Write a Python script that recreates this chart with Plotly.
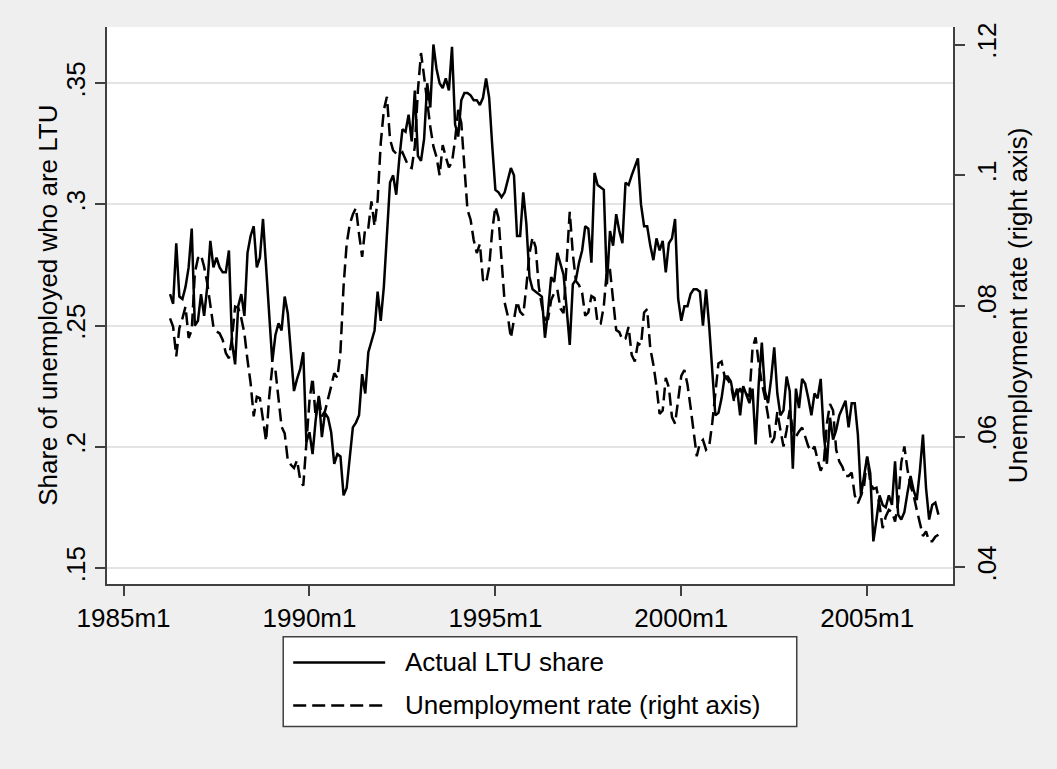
import plotly.graph_objects as go

# Monthly series, first observation 1986m4, last 2006m12
START_YEAR, START_MONTH = 1986, 4

# Share of the unemployed who are long-term unemployed (left axis)
ltu_share = [
    .263, .259, .284, .262, .261, .266, .274, .290, .250,                     # 1986 Apr-Dec
    .252, .263, .254, .266, .285, .274, .278, .274, .272, .272, .281, .243,  # 1987
    .234, .258, .263, .254, .280, .287, .291, .274, .278, .294, .274, .255,  # 1988
    .235, .246, .251, .248, .262, .255, .239, .223, .228, .232, .239, .202,  # 1989
    .206, .197, .211, .221, .204, .214, .212, .206, .193, .197, .196, .180,  # 1990
    .183, .195, .208, .210, .213, .230, .222, .239, .243, .248, .264, .252,  # 1991
    .266, .290, .309, .312, .304, .319, .331, .330, .337, .326, .347, .320,  # 1992
    .318, .327, .350, .340, .366, .356, .350, .348, .352, .347, .365, .333,  # 1993
    .328, .343, .346, .346, .345, .343, .343, .341, .344, .352, .344, .324,  # 1994
    .306, .305, .303, .305, .310, .315, .312, .287, .287, .305, .292, .270,  # 1995
    .265, .264, .263, .262, .245, .256, .270, .268, .280, .275, .271, .257,  # 1996
    .242, .267, .269, .276, .281, .291, .290, .276, .313, .308, .307, .306,  # 1997
    .267, .289, .283, .296, .289, .284, .309, .308, .312, .316, .319, .300,  # 1998
    .291, .291, .283, .277, .286, .281, .285, .272, .284, .286, .294, .261,  # 1999
    .252, .258, .258, .263, .265, .265, .264, .250, .265, .250, .232, .213,  # 2000
    .214, .220, .229, .229, .227, .220, .224, .213, .225, .221, .218, .224,  # 2001
    .201, .226, .243, .223, .218, .228, .241, .222, .213, .215, .229, .223,  # 2002
    .191, .224, .216, .228, .226, .220, .213, .222, .220, .228, .205, .193,  # 2003
    .212, .203, .207, .213, .216, .219, .208, .218, .218, .205, .180, .188,  # 2004
    .196, .189, .161, .170, .180, .176, .175, .180, .176, .194, .172, .170,  # 2005
    .173, .181, .188, .182, .178, .190, .205, .183, .170, .176, .177, .172,  # 2006
]

# Unemployment rate (right axis)
unemp_rate = [
    .0781, .0768, .0723, .0766, .0781, .0799, .0751, .0763, .0850,                            # 1986 Apr-Dec
    .0873, .0878, .0860, .0835, .0804, .0768, .0761, .0758, .0748, .0728, .0720, .0751,      # 1987
    .0799, .0797, .0781, .0758, .0717, .0682, .0631, .0661, .0659, .0626, .0593, .0661,      # 1988
    .0707, .0702, .0661, .0615, .0605, .0564, .0557, .0552, .0564, .0534, .0525, .0590,      # 1989
    .0655, .0690, .0630, .0661, .0631, .0639, .0656, .0677, .0697, .0690, .0730, .0830,      # 1990
    .0895, .0925, .0940, .0950, .0910, .0875, .0920, .0920, .0960, .0922, .0962, .1049,      # 1991
    .1100, .1120, .1055, .1038, .1033, .1031, .1035, .1025, .1013, .1011, .1044, .1130,      # 1992
    .1187, .1151, .1110, .1074, .1044, .1028, .1000, .1046, .1028, .1012, .1020, .1054,      # 1993
    .1100, .1080, .1013, .0947, .0932, .0901, .0881, .0895, .0840, .0835, .0860, .0916,      # 1994
    .0952, .0935, .0870, .0805, .0785, .0751, .0779, .0807, .0791, .0786, .0830, .0880,      # 1995
    .0905, .0890, .0830, .0800, .0779, .0780, .0809, .0820, .0825, .0796, .0789, .0870,      # 1996
    .0944, .0880, .0838, .0832, .0820, .0785, .0790, .0815, .0812, .0773, .0773, .0800,      # 1997
    .0855, .0855, .0804, .0763, .0760, .0748, .0750, .0768, .0725, .0715, .0743, .0740,      # 1998
    .0790, .0795, .0735, .0710, .0677, .0635, .0640, .0690, .0675, .0630, .0620, .0660,      # 1999
    .0693, .0702, .0680, .0645, .0606, .0570, .0590, .0595, .0580, .0585, .0621, .0665,      # 2000
    .0712, .0715, .0692, .0687, .0680, .0655, .0665, .0674, .0662, .0665, .0662, .0735,      # 2001
    .0752, .0712, .0682, .0660, .0632, .0590, .0598, .0638, .0610, .0585, .0610, .0641,      # 2002
    .0610, .0600, .0608, .0614, .0600, .0585, .0578, .0585, .0565, .0548, .0560, .0620,      # 2003
    .0650, .0640, .0580, .0562, .0554, .0540, .0540, .0545, .0510, .0498, .0510, .0525,      # 2004
    .0568, .0530, .0520, .0522, .0495, .0460, .0478, .0488, .0485, .0470, .0500, .0560,      # 2005
    .0585, .0550, .0525, .0510, .0488, .0470, .0448, .0455, .0440, .0440, .0447, .0450,      # 2006
]

x_tick_labels = ["1985m1", "1990m1", "1995m1", "2000m1", "2005m1"]
left_tick_vals = [0.15, 0.20, 0.25, 0.30, 0.35]
left_tick_text = [".15", ".2", ".25", ".3", ".35"]
right_tick_vals = [0.04, 0.06, 0.08, 0.10, 0.12]
right_tick_text = [".04", ".06", ".08", ".1", ".12"]

series_names = ["Actual LTU share", "Unemployment rate (right axis)"]
left_title = "Share of unemployed who are LTU"
right_title = "Unemployment rate (right axis)"


def stata_month(label):
    """Stata %tm number: months elapsed since 1960m1."""
    year, month = label.split("m")
    return (int(year) - 1960) * 12 + int(month) - 1


start = (START_YEAR - 1960) * 12 + START_MONTH - 1
months = list(range(start, start + len(ltu_share)))

AXIS_COLOR = "#404040"
FONT = dict(family="Liberation Sans, Arial, sans-serif", size=26, color="black")
LINE_W = 2.5
DASH = "13px,6px"

fig = go.Figure()
fig.add_trace(go.Scatter(
    x=months, y=ltu_share, mode="lines", name=series_names[0],
    line=dict(color="black", width=LINE_W), yaxis="y",
))
fig.add_trace(go.Scatter(
    x=months, y=unemp_rate, mode="lines", name=series_names[1],
    line=dict(color="black", width=LINE_W, dash=DASH), yaxis="y2",
))

x0 = stata_month("1985m1")
common_axis = dict(
    ticks="outside", ticklen=10, tickwidth=1.5, tickcolor=AXIS_COLOR,
    showline=True, linecolor=AXIS_COLOR, linewidth=1.5,
    zeroline=False, automargin=False, tickfont=FONT,
)

fig.update_layout(
    template="none",
    width=1057, height=769,
    margin=dict(l=107, r=104, t=27, b=185, pad=0),
    paper_bgcolor="#efefef",
    plot_bgcolor="white",
    font=FONT,
    showlegend=False,
    xaxis=dict(
        range=[x0 - 5.35, x0 + 267.7],
        tickvals=[stata_month(t) for t in x_tick_labels],
        ticktext=x_tick_labels,
        showgrid=False,
        **common_axis,
    ),
    yaxis=dict(
        range=[0.1434, 0.3732],
        tickvals=left_tick_vals, ticktext=left_tick_text, tickangle=-90,
        showgrid=True, gridcolor="#e4e4e4", gridwidth=1.5,
        **common_axis,
    ),
    yaxis2=dict(
        range=[0.03746, 0.12268],
        tickvals=right_tick_vals, ticktext=right_tick_text, tickangle=-90,
        overlaying="y", side="right", showgrid=False,
        **common_axis,
    ),
)

# Axis titles
fig.add_annotation(text=left_title, xref="paper", yref="paper", x=-0.0705, y=0.5,
                   textangle=-90, showarrow=False, font=FONT,
                   xanchor="center", yanchor="middle")
fig.add_annotation(text=right_title, xref="paper", yref="paper", x=1.0764, y=0.5,
                   textangle=-90, showarrow=False, font=FONT,
                   xanchor="center", yanchor="middle")

# Legend box below the plot region
fig.add_shape(type="rect", xref="paper", yref="paper",
              x0=0.2083, x1=0.8153, y0=-0.2557, y1=-0.0946,
              line=dict(color=AXIS_COLOR, width=1.5), fillcolor="white", layer="above")
legend_rows = [(-0.1409, None), (-0.2180, DASH)]
for (row_y, dash), name in zip(legend_rows, series_names):
    fig.add_shape(type="line", xref="paper", yref="paper",
                  x0=0.2201, x1=0.3288, y0=row_y, y1=row_y,
                  line=dict(color="black", width=LINE_W, dash=dash), layer="above")
    fig.add_annotation(text=name, xref="paper", yref="paper", x=0.35, y=row_y,
                       showarrow=False, font=FONT, xanchor="left", yanchor="middle")

fig.write_html("out.html")
